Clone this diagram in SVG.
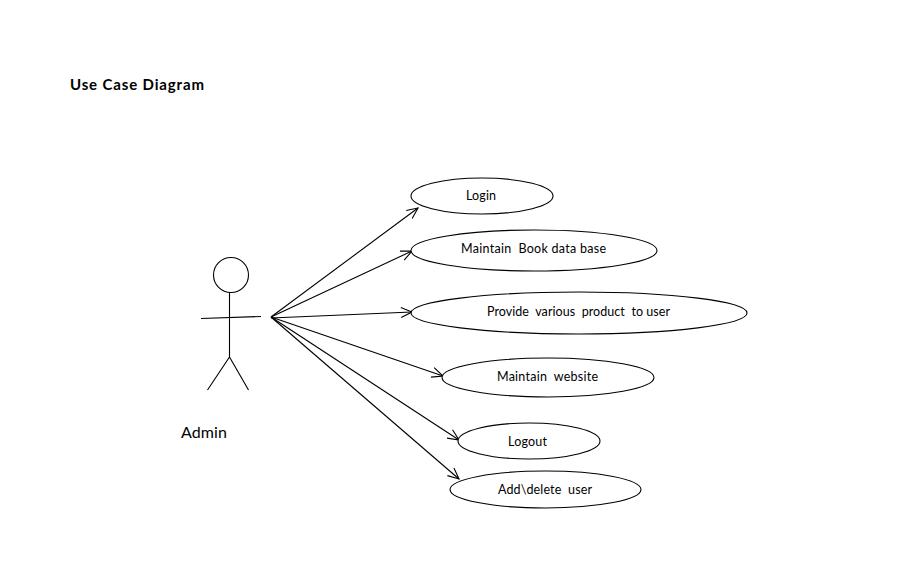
<svg xmlns="http://www.w3.org/2000/svg" width="899" height="562" viewBox="0 0 899 562">
<style>
.s{fill:none;stroke:#000;stroke-width:1.1}
.e{fill:#fff;stroke:#000;stroke-width:1.1}
text{font-family:"Lato","Liberation Sans",sans-serif;fill:#000;white-space:pre}
.t{font-size:12.5px;text-anchor:start}
</style>
<defs>
<marker id="a" markerUnits="userSpaceOnUse" markerWidth="14" markerHeight="14" refX="12" refY="6" orient="auto" viewBox="0 0 14 12">
<path d="M1 1L12 6L1 11" fill="none" stroke="#000" stroke-width="1.1"/>
</marker>
</defs>
<rect width="899" height="562" fill="#fff"/>
<text x="70" y="90" font-size="15" font-weight="700" textLength="134" lengthAdjust="spacing">Use Case Diagram</text>
<g id="actor-admin">
<circle class="s" cx="231" cy="275" r="17.500"/>
<path class="s" d="M229.500 292V357M201 318.500L261 316.500M229.500 357L207.500 390M229.500 357L248.500 390"/>
<text x="181" y="438" font-size="16" textLength="46" lengthAdjust="spacing">Admin</text>
</g>
<g id="connectors">
<line class="s" x1="271" y1="317" x2="418" y2="208" marker-end="url(#a)"/>
<line class="s" x1="271" y1="317" x2="412" y2="251" marker-end="url(#a)"/>
<line class="s" x1="271" y1="318" x2="412" y2="312" marker-end="url(#a)"/>
<line class="s" x1="271" y1="317" x2="443" y2="376" marker-end="url(#a)"/>
<line class="s" x1="271" y1="317" x2="459" y2="440" marker-end="url(#a)"/>
<line class="s" x1="271" y1="317" x2="459" y2="479" marker-end="url(#a)"/>
</g>
<g id="uc-login">
<ellipse class="e" cx="482" cy="196" rx="71" ry="18"/>
<text class="t" x="466" y="200" textLength="30" lengthAdjust="spacing">Login</text>
</g>
<g id="uc-book">
<ellipse class="e" cx="534" cy="250.500" rx="123" ry="20.500"/>
<text class="t" x="461" y="253" textLength="145" lengthAdjust="spacing">Maintain  Book data base</text>
</g>
<g id="uc-provide">
<ellipse class="e" cx="579" cy="313" rx="168" ry="21"/>
<text class="t" x="487" y="316" textLength="183" lengthAdjust="spacing">Provide  various  product  to user</text>
</g>
<g id="uc-website">
<ellipse class="e" cx="548" cy="377.500" rx="106" ry="19.500"/>
<text class="t" x="497" y="381" textLength="101" lengthAdjust="spacing">Maintain  website</text>
</g>
<g id="uc-logout">
<ellipse class="e" cx="529" cy="441" rx="71" ry="18"/>
<text class="t" x="508" y="446" textLength="39" lengthAdjust="spacing">Logout</text>
</g>
<g id="uc-add">
<ellipse class="e" cx="545.500" cy="489.500" rx="95.500" ry="18.500"/>
<text class="t" x="498" y="494" textLength="94" lengthAdjust="spacing">Add\delete  user</text>
</g>
</svg>
